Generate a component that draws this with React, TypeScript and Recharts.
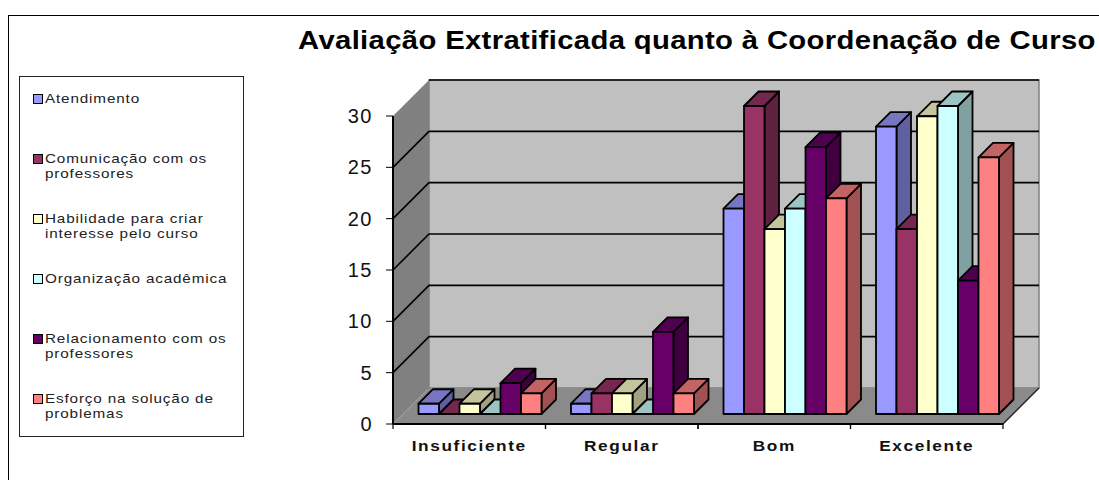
import { BarChart, Bar, XAxis, YAxis, ReferenceArea, ReferenceLine } from 'recharts'

const CATEGORIES = ['Insuficiente', 'Regular', 'Bom', 'Excelente']
const SERIES_NAMES = [
  'Atendimento',
  'Comunicação com os\nprofessores',
  'Habilidade para criar\ninteresse pelo curso',
  'Organização acadêmica',
  'Relacionamento com os\nprofessores',
  'Esforço na solução de\nproblemas',
]
const COLORS = ['#9999FF', '#993366', '#FFFFCC', '#CCFFFF', '#660066', '#FF8080']
const ATENDIMENTO = [1, 1, 20, 28]
const COMUNICACAO = [0, 2, 30, 18]
const HABILIDADE = [1, 2, 18, 29]
const ORGANIZACAO = [0, 0, 20, 30]
const RELACIONAMENTO = [3, 8, 26, 13]
const ESFORCO = [2, 2, 21, 25]
const VALUES = [ATENDIMENTO, COMUNICACAO, HABILIDADE, ORGANIZACAO, RELACIONAMENTO, ESFORCO]
const Y_TICKS = [0, 5, 10, 15, 20, 25, 30]
const GRID_TICKS = [5, 10, 15, 20, 25]

const data = CATEGORIES.map((name, c) => {
  const row: Record<string, string | number> = { name }
  VALUES.forEach((v, s) => { row['s' + s] = v[c] })
  return row
})

const FONT = '"Liberation Sans", Arial, sans-serif'
const WALL = 36         // depth of the back wall
const BAR_SHIFT_X = 10.5  // bars stand a bit behind the front edge
const BAR_SHIFT_Y = 10
const BAR_DEPTH = 14.5
const BAND = 152.5

function shade(hex: string, k: number) {
  const n = parseInt(hex.slice(1), 16)
  const ch = (v: number) => Math.round(v * k)
  return `rgb(${ch((n >> 16) & 255)},${ch((n >> 8) & 255)},${ch(n & 255)})`
}

function Box3D(props: any) {
  const { width, height, fill } = props
  const x = props.x + BAR_SHIFT_X
  const y = props.y - BAR_SHIFT_Y
  const d = BAR_DEPTH
  const common = { stroke: '#000', strokeWidth: 1.8, strokeLinejoin: 'round' as const }
  return (
    <g>
      <polygon
        points={`${x + width},${y} ${x + width + d},${y - d} ${x + width + d},${y + height - d} ${x + width},${y + height}`}
        fill={shade(fill, 0.63)}
        {...common}
      />
      <polygon
        points={`${x},${y} ${x + d},${y - d} ${x + width + d},${y - d} ${x + width},${y}`}
        fill={shade(fill, 0.77)}
        {...common}
      />
      <rect x={x} y={y} width={width} height={height} fill={fill} {...common} />
    </g>
  )
}

function Walls(props: any) {
  const { x, y, width, height } = props
  const b = y + height
  const r = x + width
  return (
    <g>
      <polygon points={`${x + WALL},${y - WALL} ${r + WALL},${y - WALL} ${r + WALL},${b - WALL} ${x + WALL},${b - WALL}`} fill="#C0C0C0" stroke="#808080" strokeWidth={1.5} />
      <polygon points={`${x},${y} ${x + WALL},${y - WALL} ${x + WALL},${b - WALL} ${x},${b}`} fill="#808080" />
      <polygon points={`${x},${b} ${x + WALL},${b - WALL} ${r + WALL},${b - WALL} ${r},${b}`} fill="#8A8A8A" />
      <line x1={r} y1={b} x2={r + WALL} y2={b - WALL} stroke="#222" strokeWidth={1.5} />
    </g>
  )
}

function GridLine(props: any) {
  const { x1, x2, y1 } = props
  return (
    <polyline
      points={`${x1},${y1} ${x1 + WALL},${y1 - WALL} ${x2 + WALL},${y1 - WALL}`}
      fill="none"
      stroke="#000"
      strokeWidth={1.6}
    />
  )
}

// the line at 30 only runs along the back wall, not down the side wall
function TopLine(props: any) {
  const { x1, x2, y1 } = props
  return <line x1={x1 + WALL} y1={y1 - WALL} x2={x2 + WALL} y2={y1 - WALL} stroke="#000" strokeWidth={1.6} />
}

function CategoryTick(props: any) {
  const { x, y, payload } = props
  return (
    <g>
      <line x1={x - BAND / 2} y1={y - 8} x2={x - BAND / 2} y2={y - 3} stroke="#000" strokeWidth={1.2} />
      <line x1={x + BAND / 2} y1={y - 8} x2={x + BAND / 2} y2={y - 3} stroke="#000" strokeWidth={1.2} />
      <text
        transform={`translate(${x},${y + 19}) scale(1.15,1)`}
        textAnchor="middle"
        fontFamily={FONT}
        fontSize={15}
        fontWeight="bold"
        letterSpacing={1.4}
        fill="#111"
      >
        {payload.value}
      </text>
    </g>
  )
}

export default function App() {
  return (
    <div style={{ position: 'absolute', left: 0, top: 0, width: 1099, height: 480, overflow: 'hidden', background: '#fff' }}>
      <div style={{ position: 'absolute', left: 8, top: 15, width: 1200, height: 600, borderLeft: '1.5px solid #000', borderTop: '1.5px solid #000' }} />
      <div style={{ position: 'absolute', left: 298, top: 26, fontFamily: FONT, fontSize: 25, fontWeight: 'bold', letterSpacing: 0.3, whiteSpace: 'nowrap', color: '#000', transform: 'scaleX(1.17)', transformOrigin: 'left' }}>
        Avaliação Extratificada quanto à Coordenação de Curso
      </div>

      <div style={{ position: 'absolute', left: 19, top: 76, width: 223, height: 359, border: '1.5px solid #222' }}>
        {SERIES_NAMES.map((label, i) => (
          <div key={label} style={{ position: 'absolute', left: 0, top: 14 + i * 60 }}>
            <span style={{ position: 'absolute', left: 13, top: 3, width: 8, height: 8, background: COLORS[i], border: '1.5px solid #000' }} />
            <span style={{ position: 'absolute', left: 25, top: 0, fontFamily: FONT, fontSize: 13.5, lineHeight: '15px', letterSpacing: 0.75, whiteSpace: 'pre', color: '#222', transform: 'scaleX(1.13)', transformOrigin: 'left' }}>
              {label}
            </span>
          </div>
        ))}
      </div>

      <div style={{ position: 'absolute', left: 0, top: 0 }}>
        <BarChart
          width={1099}
          height={480}
          data={data}
          margin={{ top: 116, right: 96, bottom: 26, left: 333 }}
          barSize={20.5}
          barGap={0}
        >
          <XAxis
            dataKey="name"
            height={30}
            tickLine={false}
            tick={CategoryTick}
            axisLine={{ stroke: '#000', strokeWidth: 2 }}
            interval={0}
          />
          <YAxis
            width={60}
            domain={[0, 30]}
            ticks={Y_TICKS}
            tickSize={7}
            tickMargin={13}
            axisLine={{ stroke: '#000', strokeWidth: 2 }}
            tickLine={{ stroke: '#000' }}
            tick={{ fontFamily: FONT, fontSize: 20, fill: '#111', letterSpacing: 1.5 }}
          />
          <ReferenceArea y1={0} y2={30} shape={Walls} zIndex={50} />
          {GRID_TICKS.map(t => (
            <ReferenceLine key={t} y={t} shape={GridLine} zIndex={60} />
          ))}
          <ReferenceLine y={30} shape={TopLine} zIndex={60} />
          {VALUES.map((_, s) => (
            <Bar
              key={s}
              dataKey={'s' + s}
              name={SERIES_NAMES[s]}
              fill={COLORS[s]}
              shape={Box3D}
              isAnimationActive={false}
            />
          ))}
        </BarChart>
      </div>
    </div>
  )
}
